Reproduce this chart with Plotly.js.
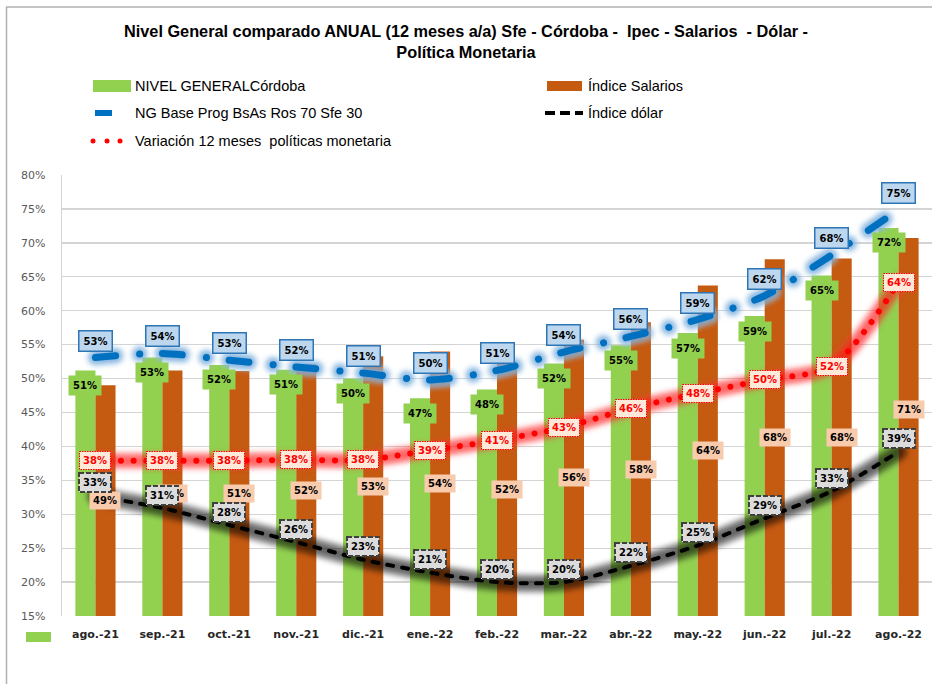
<!DOCTYPE html>
<html><head><meta charset="utf-8">
<script src="https://cdn.plot.ly/plotly-3.0.1.min.js"></script>
<style>html,body{margin:0;padding:0;background:#fff}</style>
</head><body>
<div id="chart" style="width:932px;height:684px"></div>
<script>
// ---------- DATA ----------
const months = ['ago.-21','sep.-21','oct.-21','nov.-21','dic.-21','ene.-22','feb.-22','mar.-22','abr.-22','may.-22','jun.-22','jul.-22','ago.-22'];
const nivelGeneralCordoba = [0.512,0.531,0.520,0.513,0.500,0.471,0.484,0.522,0.549,0.567,0.592,0.652,0.722];
const indiceSalarios      = [0.490,0.512,0.511,0.521,0.533,0.540,0.523,0.557,0.583,0.637,0.676,0.677,0.707];
const ngBaseProg          = [0.531,0.537,0.527,0.517,0.508,0.498,0.512,0.539,0.562,0.587,0.622,0.682,0.749];
const politicaMonetaria   = [0.379,0.379,0.379,0.380,0.380,0.394,0.409,0.428,0.456,0.478,0.498,0.518,0.642];
const indiceDolar         = [0.327,0.309,0.284,0.259,0.233,0.214,0.200,0.200,0.224,0.254,0.294,0.334,0.392];
const yTicks = [0.15,0.20,0.25,0.30,0.35,0.40,0.45,0.50,0.55,0.60,0.65,0.70,0.75,0.80];

const seriesNames = {
  green: 'NIVEL GENERALCórdoba',
  orange: 'Índice Salarios',
  blue: 'NG Base Prog BsAs Ros 70 Sfe 30',
  black: 'Índice dólar',
  red: 'Variación 12 meses  políticas monetaria'
};
const titleText = 'Nivel General comparado ANUAL (12 meses a/a) Sfe - Córdoba -  Ipec - Salarios  - Dólar -<br>Política Monetaria';

// ---------- STYLE ----------
const C = {green:'#92D050', orange:'#C55A11', blue:'#0070C0', red:'#FF0000', black:'#000000'};
const L = 62, T = 175, W = 870, H = 441;
const px = x => (x - L) / W;
const py = y => (T + H - y) / H;
const pct = v => Math.round(v * 100) + '%';
const labelFont = 'DejaVu Sans, Verdana, sans-serif';
const textFont = 'Liberation Sans, Arial, sans-serif';

const blueDash = '20px,24px,0.1px,23px';

function line(y, color, width, dash, extra) {
  return Object.assign({
    type:'scatter', mode:'lines', x: months, y: y,
    line:{color: color, width: width, dash: dash, shape:'spline', smoothing:0.8},
    hoverinfo:'skip', showlegend:false
  }, extra || {});
}

const data = [
  {type:'bar', name: seriesNames.green, x: months, y: nivelGeneralCordoba, marker:{color:C.green}, hoverinfo:'skip'},
  {type:'bar', name: seriesNames.orange, x: months, y: indiceSalarios, marker:{color:C.orange}, hoverinfo:'skip'},
  line(ngBaseProg, 'rgba(157,195,230,0.7)', 17, blueDash),
  line(ngBaseProg, 'rgba(91,155,213,0.6)', 11, blueDash),
  line(ngBaseProg, C.blue, 7, blueDash, {name: seriesNames.blue}),
  line(politicaMonetaria, 'rgba(255,60,60,0.45)', 17, 'solid'),
  line(politicaMonetaria, 'rgba(255,0,0,0.4)', 10, 'solid'),
  line(politicaMonetaria, C.red, 6, '0.1px,12.5px', {name: seriesNames.red}),
  line(indiceDolar, 'rgba(0,0,0,0.35)', 19, 'solid'),
  line(indiceDolar, 'rgba(0,0,0,0.4)', 11, 'solid'),
  line(indiceDolar, C.black, 4, '6px,9px', {name: seriesNames.black})
];
const glowScatterIdx = [0,1,3,4,6,7];

const ann = [];
const annDash = [];
function lab(x, y, text, o) {
  const d = o._dash || null;
  delete o._dash;
  ann.push(Object.assign({
    x: x, y: y, xref:'x', yref:'y', text:'<b>' + text + '</b>', showarrow:false,
    font:{family: labelFont, size:10, color:'#000'}, borderpad:3
  }, o));
  annDash.push(d);
}
months.forEach((m, i) => {
  lab(m, nivelGeneralCordoba[i], pct(nivelGeneralCordoba[i]), {xshift:-10, yshift:-15, bgcolor:C.green, borderpad:4});
  lab(m, (0.15 + indiceSalarios[i]) / 2, pct(indiceSalarios[i]), {xshift:10, yshift: i === months.length-1 ? 18 : 0, bgcolor:'#F8CBAD'});
});
months.forEach((m, i) => {
  lab(m, indiceDolar[i], pct(indiceDolar[i]), {yshift:13, bgcolor:'#DCDCDC', bordercolor:'#404040', borderwidth:2, _dash:'5,2'});
});
months.forEach((m, i) => {
  lab(m, politicaMonetaria[i], pct(politicaMonetaria[i]), {bgcolor:'#FDE9D9', bordercolor:C.red, borderwidth:1, font:{family: labelFont, size:10, color:C.red}, _dash:'1.5,1'});
  lab(m, ngBaseProg[i], pct(ngBaseProg[i]), {yshift:17, bgcolor:'#BDD7EE', bordercolor:'#2E75B6', borderwidth:1.5, borderpad:4});
});

// legend texts
function legText(x, y, text) {
  ann.push({xref:'paper', yref:'paper', x: px(x), y: py(y), xanchor:'left', yanchor:'middle', text: text, showarrow:false,
    font:{family: textFont, size:14.5, color:'#000'}});
  annDash.push(null);
}
legText(133, 86, seriesNames.green);
legText(586, 86, seriesNames.orange);
legText(133, 113, seriesNames.blue);
legText(586, 113, seriesNames.black);
legText(133, 141, seriesNames.red);

const shapes = [
  // frame
  {type:'line', xref:'paper', yref:'paper', x0: px(6.5), x1: px(6.5), y0: py(7), y1: py(684), line:{color:'#B0B0B0', width:1.5}},
  {type:'line', xref:'paper', yref:'paper', x0: px(6), x1: px(932), y0: py(7), y1: py(7), line:{color:'#B0B0B0', width:1.5}},
  // legend keys
  {type:'rect', xref:'paper', yref:'paper', x0: px(93), x1: px(131), y0: py(92), y1: py(80), fillcolor:C.green, line:{width:0}},
  {type:'rect', xref:'paper', yref:'paper', x0: px(547), x1: px(582), y0: py(91), y1: py(81), fillcolor:C.orange, line:{width:0}},
  {type:'line', xref:'paper', yref:'paper', x0: px(95), x1: px(112), y0: py(113), y1: py(113), line:{color:C.blue, width:6}},
  {type:'line', xref:'paper', yref:'paper', x0: px(545), x1: px(583), y0: py(113), y1: py(113), line:{color:'#000', width:4, dash:'10px,5px'}},
  {type:'circle', xref:'paper', yref:'paper', x0: px(90.5), x1: px(95.5), y0: py(143.5), y1: py(138.5), fillcolor:C.red, line:{width:0}},
  {type:'circle', xref:'paper', yref:'paper', x0: px(104.5), x1: px(109.5), y0: py(143.5), y1: py(138.5), fillcolor:C.red, line:{width:0}},
  {type:'circle', xref:'paper', yref:'paper', x0: px(117.5), x1: px(122.5), y0: py(143.5), y1: py(138.5), fillcolor:C.red, line:{width:0}},
  // bottom-left leftover key
  {type:'rect', xref:'paper', yref:'paper', x0: px(26), x1: px(51), y0: py(642), y1: py(632), fillcolor:C.green, line:{width:0}}
];

const layout = {
  width:932, height:684,
  margin:{l:L, r:932-L-W, t:T, b:684-T-H, pad:0},
  paper_bgcolor:'#fff', plot_bgcolor:'#fff',
  showlegend:false,
  barmode:'group', bargap:0.4, bargroupgap:0,
  title:{text: titleText, font:{family: textFont, size:16.3, weight:'bold', color:'#000'},
         x:0.5, xref:'container', xanchor:'center', y: 1 - 36.5/684, yref:'container', yanchor:'middle'},
  xaxis:{type:'category', categoryorder:'array', categoryarray: months, range:[-0.5, 12.5],
         showgrid:false, zeroline:false, showline:false, ticks:'',
         tickfont:{family: labelFont, size:11, weight:'bold', color:'#262626'}, ticklabelstandoff:10},
  yaxis:{range:[0.15, 0.80], tickvals: yTicks, tickformat:'.0%', showgrid:true, gridcolor:'#D4D4D4', gridwidth:1.3,
         zeroline:false, showline:true, linecolor:'#D4D4D4', linewidth:1.3, ticks:'',
         tickfont:{family: labelFont, size:11, color:'#595959'}, ticklabelstandoff:13},
  annotations: ann,
  shapes: shapes
};

Plotly.newPlot('chart', data, layout, {staticPlot:true, displayModeBar:false}).then(gd => {
  const svgNS = 'http://www.w3.org/2000/svg';
  const mainSvg = gd.querySelector('svg.main-svg');
  let defs = mainSvg.querySelector('defs');
  if (!defs) { defs = document.createElementNS(svgNS, 'defs'); mainSvg.insertBefore(defs, mainSvg.firstChild); }
  const f = document.createElementNS(svgNS, 'filter');
  f.setAttribute('id', 'softglow');
  f.setAttribute('filterUnits', 'userSpaceOnUse');
  f.setAttribute('x', '-100'); f.setAttribute('y', '-100');
  f.setAttribute('width', '1200'); f.setAttribute('height', '900');
  const b = document.createElementNS(svgNS, 'feGaussianBlur');
  b.setAttribute('stdDeviation', '2.4');
  f.appendChild(b);
  defs.appendChild(f);

  const traces = gd.querySelectorAll('.scatterlayer .trace');
  traces.forEach((t, i) => {
    t.querySelectorAll('path.js-line').forEach(p => {
      p.style.strokeLinecap = 'round';
      p.style.strokeLinejoin = 'round';
      if (glowScatterIdx.indexOf(i) >= 0) p.setAttribute('filter', 'url(#softglow)');
    });
  });
  annDash.forEach((d, i) => {
    if (!d) return;
    const r = gd.querySelector('.annotation[data-index="' + i + '"] rect.bg');
    if (r) r.style.strokeDasharray = d;
  });
});
</script>
</body></html>
